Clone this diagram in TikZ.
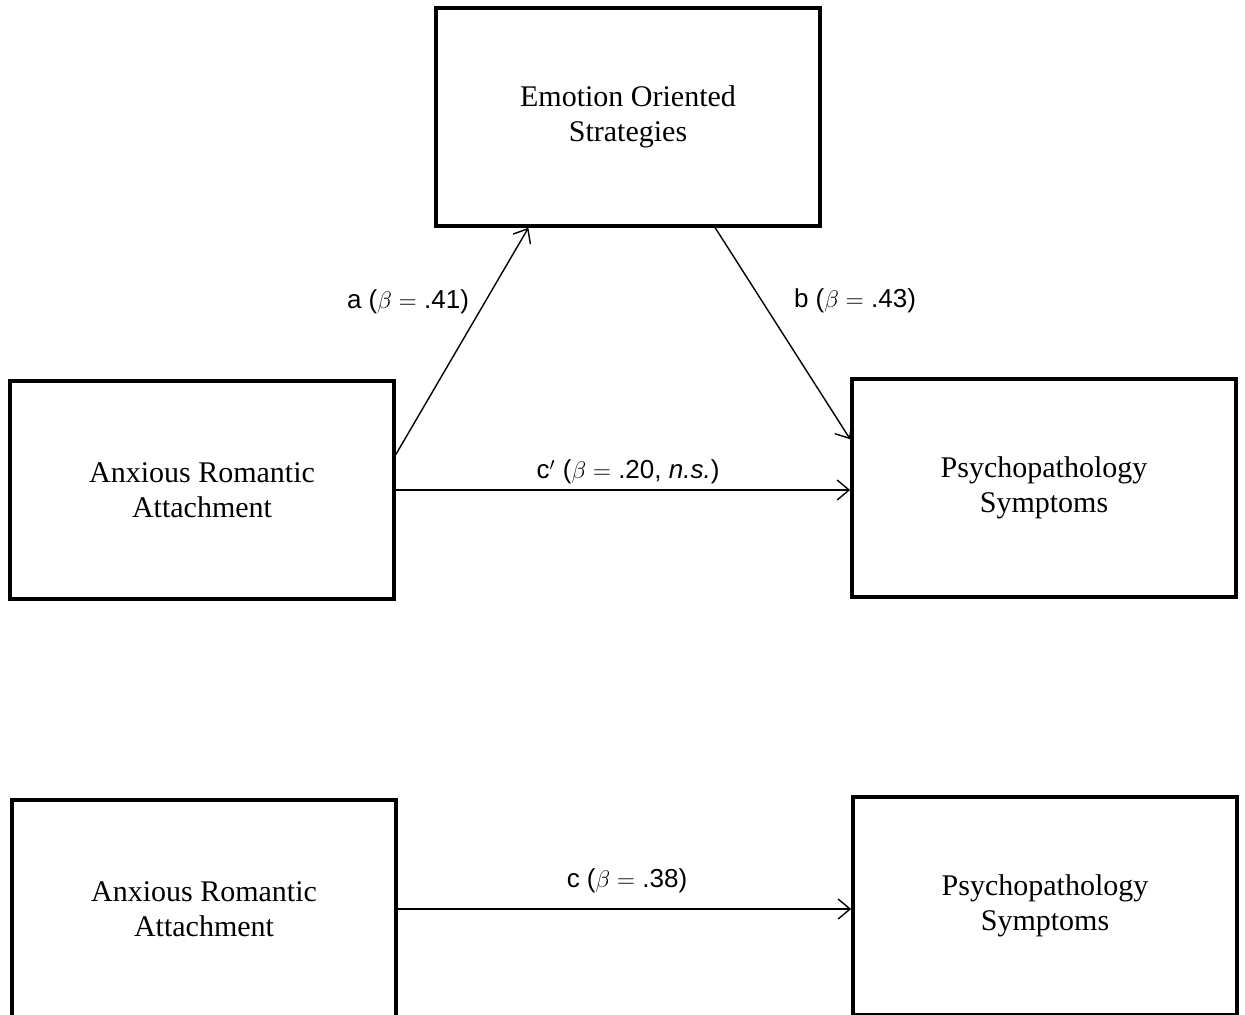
\documentclass[tikz,border=0pt]{standalone}
\usepackage{fontspec}
\setmainfont{Liberation Serif}
\setsansfont{Liberation Sans}
\usetikzlibrary{calc,arrows.meta}
\tikzset{
  varbox/.style={draw,line width=1.8pt,minimum width=192pt,minimum height=109pt,align=center,font=\fontsize{15}{17.5}\selectfont},
  path/.style={line width=0.7pt,-{Straight Barb[length=6pt,width=10pt,line width=0.7pt]}},
  coef/.style={font=\sffamily\fontsize{13}{16}\selectfont,inner sep=1pt}
}
\newcommand{\bet}[1]{($\beta = $ #1}
\begin{document}
\begin{tikzpicture}[x=0.5pt,y=-0.5pt]
		\useasboundingbox (0,0) rectangle (1245,1014);
		% mediation model
		\node[varbox] (emo) at (628,117) {Emotion Oriented\\Strategies};
		\node[varbox] (anx) at (202,490) {Anxious Romantic\\Attachment};
		\node[varbox] (psy) at (1044,488) {Psychopathology\\Symptoms};
		\draw[path] ($(anx.north east)!0.34!(anx.south east)$) -- ($(emo.south west)!0.243!(emo.south east)$);
		\draw[path] ($(emo.south west)!0.725!(emo.south east)$) -- ($(psy.north west)!0.28!(psy.south west)$);
		\draw[path] (anx.east) -- (anx.east -| psy.west);
		\node[coef] (a) at (408,302) {a \bet{.41})};
		\node[coef] (b) at (855,301) {b \bet{.43})};
		\node[coef] (cp) at (628,472) {c$'$ \bet{.20}, \textit{n.s.})};
		% total effect
		\node[varbox] (anxt) at (204,909) {Anxious Romantic\\Attachment};
		\node[varbox] (psyt) at (1045,906) {Psychopathology\\Symptoms};
		\draw[path] (anxt.east) -- (anxt.east -| psyt.west);
		\node[coef] (c) at (627,881) {c \bet{.38})};
\end{tikzpicture}
\end{document}
